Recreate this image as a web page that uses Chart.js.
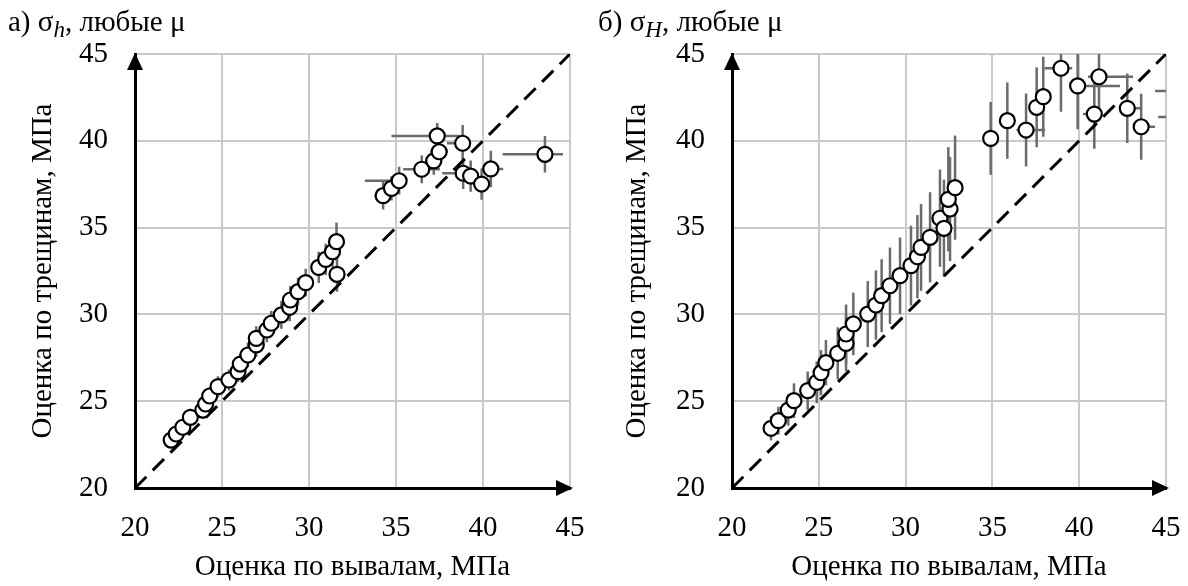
<!DOCTYPE html>
<html>
<head>
<meta charset="utf-8">
<script src="https://cdn.jsdelivr.net/npm/chart.js@4.4.1/dist/chart.umd.min.js"></script>
<style>
  body { margin: 0; background: #fff; width: 1188px; height: 586px; overflow: hidden; position: relative; font-family: "Liberation Serif", serif; }
  canvas { position: absolute; top: 0; }
  #chartA { left: 0; }
  #chartB { left: 594px; }
  .ttl { position: absolute; top: 7px; font-size: 29px; line-height: 1; white-space: nowrap; color: #000; }
  .ttl i { font-size: 23px; position: relative; top: 6px; }
</style>
</head>
<body>
<canvas id="chartA" width="594" height="586"></canvas>
<canvas id="chartB" width="594" height="586"></canvas>
<div class="ttl" style="left:8px">а) σ<i>h</i>, любые μ</div>
<div class="ttl" style="left:598px">б) σ<i>H</i>, любые μ</div>
<script>
// axis ticks and the y = x reference line
const tickValues = [20, 25, 30, 35, 40, 45];
const diagX = [20, 45];
const diagY = [20, 45];

// а) sigma_h
const xA = [22.08, 22.37, 22.75, 23.18, 23.90, 24.06, 24.29, 24.77, 25.40, 25.92, 26.05, 26.49, 26.97, 26.97, 27.58, 27.83, 28.41, 28.89, 28.93, 29.37, 29.81, 30.56, 30.96, 31.35, 31.58, 31.61,
            34.26, 34.74, 35.18, 36.48, 37.17, 37.48, 37.37, 38.83, 38.86, 39.29, 39.92, 40.45, 43.56];
const yA = [22.76, 23.11, 23.50, 24.07, 24.49, 24.84, 25.30, 25.84, 26.22, 26.70, 27.14, 27.66, 28.24, 28.62, 29.10, 29.49, 29.97, 30.41, 30.83, 31.31, 31.83, 32.71, 33.17, 33.61, 34.19, 32.31,
            36.84, 37.26, 37.70, 38.36, 38.84, 39.37, 40.28, 39.86, 38.13, 37.97, 37.51, 38.38, 39.22];
const xMinusA = [0.2, 0.2, 0.2, 0.2, 0.3, 0.3, 0.3, 0.3, 0.3, 0.3, 0.3, 0.3, 0.3, 0.3, 0.4, 0.4, 0.4, 0.4, 0.4, 0.4, 0.4, 0.4, 0.4, 0.4, 0.4, 0.4,
                 0.5, 0.4, 1.97, 1.07, 0.5, 0.5, 2.63, 0.9, 1.2, 0.4, 0.5, 0.53, 2.43];
const xPlusA = [0.2, 0.2, 0.2, 0.2, 0.3, 0.3, 0.3, 0.3, 0.3, 0.3, 0.3, 0.3, 0.3, 0.3, 0.4, 0.4, 0.4, 0.4, 0.4, 0.4, 0.4, 0.4, 0.4, 0.4, 0.4, 0.4,
                0.5, 0.4, 0.44, 1.04, 0.5, 0.5, 1.30, 0.3, 0.5, 0.4, 0.5, 0.71, 1.04];
const yErrA = [0.4, 0.4, 0.4, 0.5, 0.5, 0.5, 0.5, 0.6, 0.6, 0.6, 0.6, 0.7, 0.7, 0.7, 0.7, 0.7, 0.8, 0.8, 0.8, 0.8, 0.8, 0.9, 0.9, 0.9, 1.1, 1.0,
               0.8, 0.7, 0.8, 0.8, 0.8, 0.8, 0.75, 1.05, 0.9, 0.9, 0.9, 1.05, 1.05];

// б) sigma_H
const xB = [22.25, 22.67, 23.24, 23.57, 24.36, 24.88, 25.13, 25.41, 26.09, 26.57, 26.57, 26.99, 27.82, 28.29, 28.62, 29.10, 29.68, 30.31, 30.68, 30.89, 31.41, 31.98, 32.21, 32.56, 32.46, 32.85,
            34.90, 35.86, 36.94, 37.55, 37.93, 38.95, 39.91, 41.14, 40.87, 42.77, 43.57, 45.8, 46.0];
const yB = [23.44, 23.88, 24.49, 25.03, 25.61, 26.09, 26.64, 27.22, 27.76, 28.33, 28.87, 29.45, 30.02, 30.54, 31.08, 31.65, 32.23, 32.81, 33.32, 33.86, 34.44, 35.54, 34.96, 36.07, 36.63, 37.30,
            40.14, 41.16, 40.62, 41.93, 42.54, 44.18, 43.16, 43.69, 41.54, 41.87, 40.81, 42.87, 41.37];
const xMinusB = [0, 0, 0, 0, 0, 0, 0, 0, 0, 0, 0, 0, 0, 0, 0, 0, 0, 0, 0, 0, 0, 0, 0, 0, 0, 0,
                 0, 0, 0.55, 0, 0.3, 0.95, 0.3, 0.63, 0.65, 0.3, 0.3, 1.43, 1.45];
const xPlusB = [0, 0, 0, 0, 0, 0, 0, 0, 0, 0, 0, 0, 0, 0, 0, 0, 0, 0, 0, 0, 0, 0, 0, 0, 0, 0,
                0, 0, 1.1, 0, 0.3, 0.65, 2.44, 1.96, 0.3, 0.83, 0.8, 0, 0];
const yErrB = [0.7, 0.8, 0.9, 1.0, 1.1, 1.2, 1.3, 1.3, 1.5, 1.6, 1.7, 1.8, 1.9, 2.0, 2.1, 2.2, 2.2, 2.3, 2.4, 2.5, 2.6, 2.8, 2.8, 3.0, 3.0, 3.0,
               2.1, 2.2, 2.1, 2.3, 2.3, 2.5, 2.5, 2.1, 2.0, 2.0, 1.9, 0, 0];

const serif = '"Liberation Serif", "Times New Roman", serif';

// grey error bars, drawn under the markers and clipped to the plot
const errorBars = {
  id: 'errorBars',
  beforeDatasetsDraw(chart) {
    const e = chart.data.datasets[0].errors;
    const { ctx, chartArea: a, scales: { x, y } } = chart;
    ctx.save();
    ctx.beginPath();
    ctx.rect(a.left, a.top, a.width, a.height);
    ctx.clip();
    ctx.strokeStyle = '#6b6b6b';
    ctx.lineWidth = 2.5;
    e.xs.forEach((xv, i) => {
      const yv = e.ys[i];
      const px = x.getPixelForValue(xv);
      const py = y.getPixelForValue(yv);
      ctx.beginPath();
      if (e.xMinus[i] || e.xPlus[i]) {
        ctx.moveTo(x.getPixelForValue(xv - e.xMinus[i]), py);
        ctx.lineTo(x.getPixelForValue(xv + e.xPlus[i]), py);
      }
      if (e.yErr[i]) {
        ctx.moveTo(px, y.getPixelForValue(yv - e.yErr[i]));
        ctx.lineTo(px, y.getPixelForValue(yv + e.yErr[i]));
      }
      ctx.stroke();
    });
    ctx.restore();
  }
};

// arrow heads at the ends of both axes
const axisArrows = {
  id: 'axisArrows',
  afterDraw(chart) {
    const { ctx, scales: { x, y } } = chart;
    const x0 = x.getPixelForValue(20), y0 = y.getPixelForValue(20);
    const xe = x.getPixelForValue(45), ye = y.getPixelForValue(45);
    ctx.save();
    ctx.fillStyle = '#000';
    ctx.beginPath();
    ctx.moveTo(x0, ye - 1);
    ctx.lineTo(x0 - 8, ye + 16);
    ctx.lineTo(x0 + 8, ye + 16);
    ctx.closePath();
    ctx.fill();
    ctx.beginPath();
    ctx.moveTo(xe + 3, y0);
    ctx.lineTo(xe - 14, y0 - 8);
    ctx.lineTo(xe - 14, y0 + 8);
    ctx.closePath();
    ctx.fill();
    ctx.restore();
  }
};

function axis(titleText, horizontal, size) {
  return {
    type: 'linear',
    min: 20,
    max: 45,
    afterBuildTicks: s => { s.ticks = tickValues.map(v => ({ value: v })); },
    afterFit: s => {
      if (horizontal) { s.height = size; s.paddingLeft = 0; s.paddingRight = 0; }
      else { s.width = size; s.paddingTop = 0; s.paddingBottom = 0; }
    },
    ticks: { color: '#000', font: { family: serif, size: 29 }, padding: horizontal ? 23 : 27 },
    grid: { color: '#cacaca', lineWidth: 2, drawTicks: false },
    border: { display: true, color: '#000', width: 3 },
    title: {
      display: true,
      text: titleText,
      color: '#000',
      font: { family: serif, size: 29 },
      padding: horizontal ? { top: 0, bottom: 1 } : { top: 26, bottom: 0 }
    }
  };
}

function makeChart(id, xs, ys, xMinus, xPlus, yErr, leftWidth, rightPad) {
  return new Chart(document.getElementById(id), {
    type: 'scatter',
    data: {
      datasets: [
        {
          data: xs.map((v, i) => ({ x: v, y: ys[i] })),
          pointRadius: 7.5,
          pointBorderWidth: 2.2,
          pointBackgroundColor: '#fff',
          pointBorderColor: '#000',
          clip: 0,
          errors: { xs, ys, xMinus, xPlus, yErr }
        },
        {
          data: diagX.map((v, i) => ({ x: v, y: diagY[i] })),
          showLine: true,
          pointRadius: 0,
          borderColor: '#000',
          borderWidth: 3,
          borderDash: [16, 9]
        }
      ]
    },
    options: {
      responsive: false,
      animation: false,
      events: [],
      devicePixelRatio: 1,
      layout: { padding: { left: 0, top: 54, right: rightPad, bottom: 0 } },
      plugins: { legend: { display: false }, tooltip: { enabled: false } },
      scales: {
        x: axis('Оценка по вывалам, МПа', true, 98),
        y: axis('Оценка по трещинам, МПа', false, leftWidth)
      }
    },
    plugins: [errorBars, axisArrows]
  });
}

makeChart('chartA', xA, yA, xMinusA, xPlusA, yErrA, 135, 24);
makeChart('chartB', xB, yB, xMinusB, xPlusB, yErrB, 138, 22);
</script>
</body>
</html>
